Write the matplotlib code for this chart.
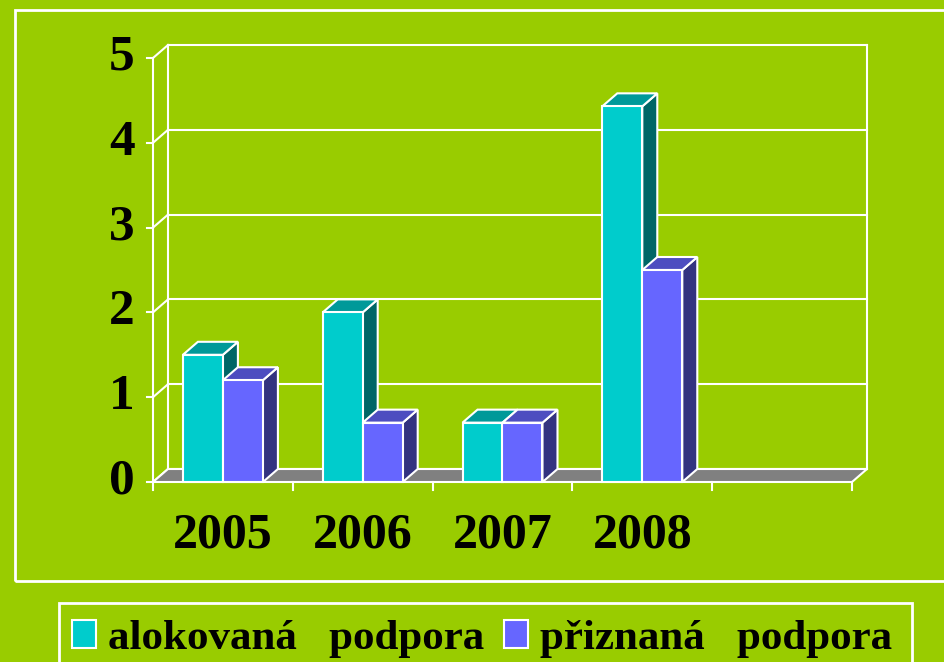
import matplotlib.pyplot as plt
from matplotlib.patches import Polygon, Rectangle, Patch
import numpy as np

plt.rcParams['font.family'] = ['Liberation Serif', 'DejaVu Serif']
plt.rcParams['font.weight'] = 'bold'

years = ['2005', '2006', '2007', '2008', '']
alokovana = [1.5, 2.0, 0.7, 4.43]
priznana = [1.2, 0.7, 0.7, 2.5]
series_names = ['alokovaná   podpora', 'přiznaná   podpora']
yticks = [0, 1, 2, 3, 4, 5]

bg = '#99CC00'
front_cols = ['#00CCCC', '#6666FF']
top_cols = ['#009999', '#4D4DC0']
side_cols = ['#006666', '#333380']

W, H = 945, 662
fig = plt.figure(figsize=(W / 100, H / 100), dpi=100, facecolor=bg)

# front plane of the chart in pixels: x 153..852, y 482 (0) .. 58 (5)
ax = fig.add_axes([153 / W, (H - 482) / H, 699 / W, 424 / H])
ax.set_xlim(0, len(years))
ax.set_ylim(0, 5)
ax.axis('off')
ax.patch.set_visible(False)

# depth offset in data units (15 px right, 13 px up)
dx = 15 / 139.8
dy = 13 / 84.8
ncat = len(years)
lw = 1.5

# back wall gridlines and diagonals from the front axis
for t in yticks:
    ax.plot([dx, ncat + dx], [t + dy, t + dy], color='white', lw=lw, clip_on=False, zorder=1)
    ax.plot([0, dx], [t, t + dy], color='white', lw=lw, clip_on=False, zorder=1)
    ax.plot([-0.045, 0], [t, t], color='white', lw=lw, clip_on=False, zorder=1)
    ax.text(-0.13, t, str(t), ha='right', va='center', fontsize=37,
            fontweight='bold', color='black')
ax.plot([dx, dx], [dy, 5 + dy], color='white', lw=lw, clip_on=False, zorder=1)
ax.plot([ncat + dx, ncat + dx], [dy, 5 + dy], color='white', lw=lw, clip_on=False, zorder=1)
ax.plot([0, 0], [0, 5], color='white', lw=lw, clip_on=False, zorder=1)

# floor
floor = Polygon([[0, 0], [ncat, 0], [ncat + dx, dy], [dx, dy]], closed=True,
                facecolor='#808080', edgecolor='white', lw=lw, clip_on=False, zorder=2)
ax.add_patch(floor)
for i in range(ncat + 1):
    ax.plot([i, i], [0, -0.1], color='white', lw=lw, clip_on=False, zorder=2)

# bars: front faces with ax.bar, tops and sides as polygons
bw = 40 / 139.8
x = np.arange(len(alokovana)) + 0.5
z = 3
for k, vals in enumerate([alokovana, priznana]):
    left = x - bw + k * bw
    for xl, v in zip(left, vals):
        side = Polygon([[xl + bw, 0], [xl + bw + dx, dy], [xl + bw + dx, v + dy], [xl + bw, v]],
                       closed=True, facecolor=side_cols[k], edgecolor='white', lw=lw,
                       clip_on=False, zorder=z)
        top = Polygon([[xl, v], [xl + bw, v], [xl + bw + dx, v + dy], [xl + dx, v + dy]],
                      closed=True, facecolor=top_cols[k], edgecolor='white', lw=lw,
                      clip_on=False, zorder=z)
        ax.add_patch(side)
        ax.add_patch(top)
    ax.bar(left, vals, width=bw, align='edge', color=front_cols[k], edgecolor='white',
           lw=lw, zorder=z + 0.5, clip_on=False)

for i, lab in enumerate(years):
    ax.text(i + 0.5, -0.63, lab, ha='center', va='center', fontsize=36,
            fontweight='bold', color='black')

# outer frame and legend frame (figure pixels)
fig.patches.append(Rectangle((15 / W, 1 - 581 / H), 960 / W, 571 / H, transform=fig.transFigure,
                             fill=False, edgecolor='white', lw=2))
fig.patches.append(Rectangle((59 / W, -0.05), (912 - 59) / W, 0.05 + 1 - 603 / H,
                             transform=fig.transFigure, fill=False, edgecolor='white', lw=2))

handles = [Patch(facecolor=c, edgecolor='white', lw=1.5) for c in front_cols]
fig.legend(handles, series_names, loc='center left', bbox_to_anchor=(72 / W, 1 - 639 / H),
           frameon=False, ncol=2, prop={'weight': 'bold', 'size': 31},
           handlelength=0.56, handleheight=0.63, handletextpad=0.28, columnspacing=0.45,
           borderpad=0, borderaxespad=0)

fig.savefig('out.png', dpi=100, facecolor=bg)
